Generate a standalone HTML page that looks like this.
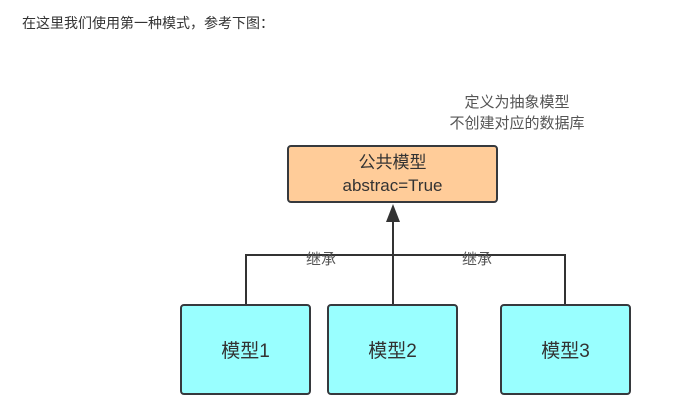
<!DOCTYPE html>
<html><head><meta charset="utf-8"><style>
body{margin:0;width:693px;height:415px;background:#fff;overflow:hidden;position:relative;font-family:"Liberation Sans","Noto Sans CJK SC",sans-serif;}
.t{position:absolute;left:22px;top:13px;font-size:14px;color:#333;}
.b{position:absolute;box-sizing:border-box;border:2px solid #36393d;border-radius:4px;display:flex;align-items:center;justify-content:center;text-align:center;color:#333;}
</style></head><body>
<div class="t">在这里我们使用第一种模式，参考下图：</div>
<svg width="693" height="415" style="position:absolute;left:0;top:0">
<g stroke="#333" stroke-width="2" fill="none">
<polyline points="246,304 246,255 565,255 565,304"/>
<line x1="393" y1="304" x2="393" y2="220"/>
</g>
<polygon points="393,204 386,222 400,222" fill="#333"/>
<g font-family="Liberation Sans,Noto Sans CJK SC,sans-serif" font-size="15" fill="#555" text-anchor="middle">
<text x="321" y="264">继承</text>
<text x="477" y="264">继承</text>
<text x="517" y="107">定义为抽象模型</text>
<text x="517" y="128">不创建对应的数据库</text>
</g>
</svg>
<div class="b" style="left:287px;top:145px;width:211px;height:58px;background:#ffcc99;font-size:17px;line-height:23px;">公共模型<br>abstrac=True</div>
<div class="b" style="left:180px;top:304px;width:131px;height:91px;background:#99ffff;font-size:19px;">模型1</div>
<div class="b" style="left:327px;top:304px;width:131px;height:91px;background:#99ffff;font-size:19px;">模型2</div>
<div class="b" style="left:500px;top:304px;width:131px;height:91px;background:#99ffff;font-size:19px;">模型3</div>
</body></html>
